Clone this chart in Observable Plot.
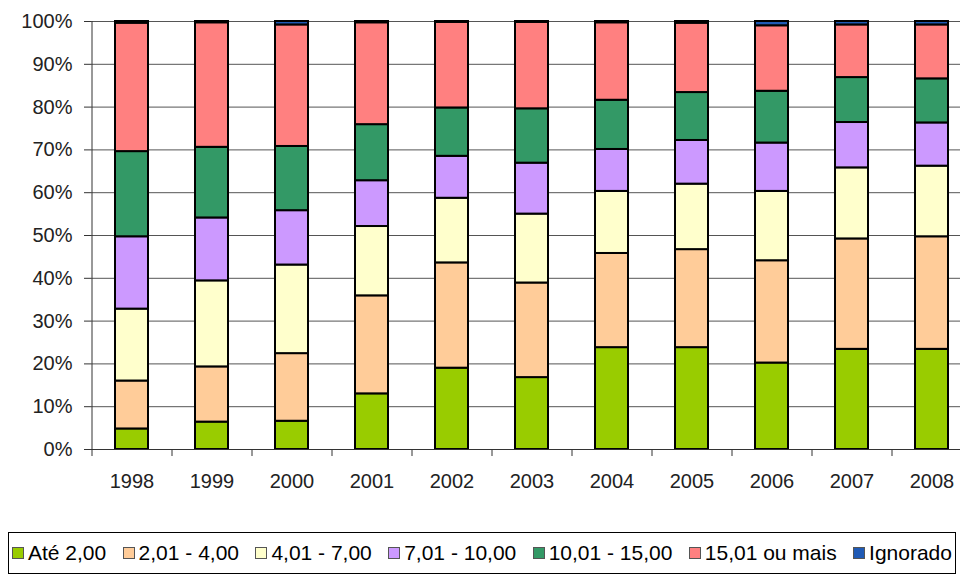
<!DOCTYPE html>
<html>
<head>
<meta charset="utf-8">
<script src="https://cdn.jsdelivr.net/npm/d3@7"></script>
<script src="https://cdn.jsdelivr.net/npm/@observablehq/plot@0.6"></script>
<style>
  html, body { margin: 0; padding: 0; background: #fff; overflow: hidden; width: 960px; height: 577px; }
  #chart { position: absolute; left: 0; top: 0; width: 975px; }
  #chart svg { max-width: none !important; }
  #legend {
    position: absolute; left: 8px; top: 532px; width: 948px; height: 42px;
    border: 1px solid #000; box-sizing: border-box;
    display: flex; align-items: center; justify-content: space-between;
    padding: 0 3px 0 3px;
    font-family: Arial, "Liberation Sans", sans-serif; font-size: 21px; color: #000;
  }
  .item { display: flex; align-items: center; white-space: nowrap; }
  .sw { width: 10px; height: 10px; border: 1px solid #555; margin-right: 4px; }
</style>
</head>
<body>
<div id="chart"></div>
<div id="legend"></div>
<script>
const years = ["1998","1999","2000","2001","2002","2003","2004","2005","2006","2007","2008"];
const series = ["Até 2,00","2,01 - 4,00","4,01 - 7,00","7,01 - 10,00","10,01 - 15,00","15,01 ou mais","Ignorado"];
const colors = ["#99CC00","#FFCC99","#FFFFCC","#CC99FF","#339966","#FF8080","#1F5AB5"];
const yTicks = [0,10,20,30,40,50,60,70,80,90,100];

const ate2   = [4.8, 6.4, 6.6, 13.0, 19.0, 16.8, 23.8, 23.8, 20.2, 23.4, 23.4];
const de2a4  = [11.2, 12.9, 15.8, 22.9, 24.6, 22.1, 22.0, 22.9, 23.9, 25.8, 26.3];
const de4a7  = [16.8, 20.1, 20.7, 16.2, 15.1, 16.1, 14.5, 15.3, 16.2, 16.6, 16.5];
const de7a10 = [16.9, 14.7, 12.7, 10.7, 9.8, 11.9, 9.8, 10.2, 11.3, 10.6, 10.1];
const de10a15= [19.9, 16.5, 15.0, 13.1, 11.3, 12.7, 11.5, 11.2, 12.1, 10.5, 10.3];
const mais15 = [30.0, 29.1, 28.4, 23.8, 20.0, 20.2, 18.1, 16.2, 15.3, 12.3, 12.6];
const ignorado = [0.4, 0.3, 0.8, 0.3, 0.2, 0.2, 0.3, 0.4, 1.0, 0.8, 0.8];

const values = [ate2, de2a4, de4a7, de7a10, de10a15, mais15, ignorado];
const data = years.flatMap((y, i) => series.map((s, j) => ({year: y, series: s, value: values[j][i]})));

const step = 80;
const chart = Plot.plot({
  width: 975,
  height: 500,
  marginLeft: 91,
  marginRight: 4,
  marginTop: 21,
  marginBottom: 51,
  style: {fontFamily: "Arial, 'Liberation Sans', sans-serif", fontSize: "20px", color: "#000", background: "#fff", maxWidth: "none"},
  x: {domain: years, paddingInner: 0.59, paddingOuter: 0.295, label: null},
  y: {domain: [0, 100], label: null},
  color: {domain: series, range: colors},
  marks: [
    Plot.gridY(yTicks, {stroke: "#555", strokeOpacity: 1, strokeWidth: 1}),
    Plot.barY(data, {x: "year", y: "value", fill: "series", stroke: "#000", strokeWidth: 2}),
    Plot.ruleY([0], {stroke: "#333", strokeWidth: 1}),
    Plot.ruleX([years[0]], {y1: 0, y2: 100, dx: -step / 2, stroke: "#333", strokeWidth: 1}),
    Plot.axisY(yTicks, {tickSize: 7, tickPadding: 12, tickFormat: d => d + "%", label: null, stroke: "#333", fill: "#222"}),
    Plot.axisX({tickSize: 0, tickPadding: 24, label: null, fill: "#222"}),
    Plot.axisX({tickSize: 7, tickFormat: () => "", dx: -step / 2, label: null, stroke: "#333"})
  ]
});
document.getElementById("chart").appendChild(chart);

const legend = document.getElementById("legend");
series.forEach((s, i) => {
  const item = document.createElement("div");
  item.className = "item";
  const sw = document.createElement("span");
  sw.className = "sw";
  sw.style.background = colors[i];
  const t = document.createElement("span");
  t.textContent = s;
  item.appendChild(sw);
  item.appendChild(t);
  legend.appendChild(item);
});
</script>
</body>
</html>
